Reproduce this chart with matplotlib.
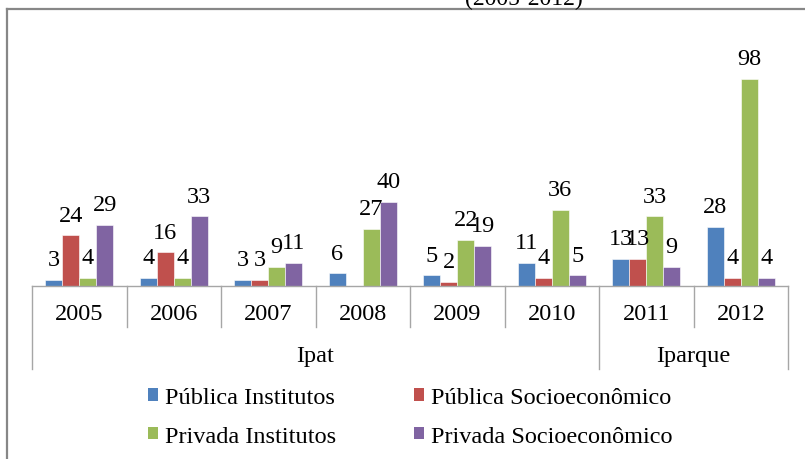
import matplotlib
matplotlib.use("Agg")
import matplotlib.pyplot as plt
from matplotlib.lines import Line2D
from matplotlib.patches import Patch
import numpy as np

plt.rcParams['font.family'] = ['Liberation Serif', 'DejaVu Serif']

years = ["2005", "2006", "2007", "2008", "2009", "2010", "2011", "2012"]
groups = ["Ipat", "Iparque"]
group_sizes = [6, 2]
series = ["Pública Institutos", "Pública Socioeconômico",
          "Privada Institutos", "Privada Socioeconômico"]
publica_institutos = [3, 4, 3, 6, 5, 11, 13, 28]
publica_socio = [24, 16, 3, 0, 2, 4, 13, 4]
privada_institutos = [4, 4, 9, 27, 22, 36, 33, 98]
privada_socio = [29, 33, 11, 40, 19, 5, 9, 4]
values = [publica_institutos, publica_socio, privada_institutos, privada_socio]
colors = ["#4F81BD", "#C0504D", "#9BBB59", "#8064A2"]
title = "(2005-2012)"

W, H = 805, 460
fig = plt.figure(figsize=(W / 100, H / 100), dpi=100)

# outer chart frame (partially outside the canvas on the right and bottom)
frame_col = "#878787"
fig.add_artist(Line2D([7 / W, 1.0], [1 - 10 / H, 1 - 10 / H],
                      transform=fig.transFigure, color=frame_col, lw=1.6))
fig.add_artist(Line2D([7 / W, 7 / W], [1 - 10 / H, 0.0],
                      transform=fig.transFigure, color=frame_col, lw=1.6))

# title, mostly cropped by the top edge
fig.text(524 / W, 1 - 5 / H, title, ha="center", va="baseline", fontsize=17)

ax_h = 105 * 2.112
ax = fig.add_axes([32 / W, (H - 287) / H, 756 / W, ax_h / H])
x = np.arange(len(years))
bw = 0.18
offsets = (np.arange(4) - 1.5) * bw
for vals, col, off, name in zip(values, colors, offsets, series):
    ax.bar(x + off, vals, width=bw, color=col, edgecolor="white",
           linewidth=0.4, label=name)
    for xi, v in zip(x + off, vals):
        if v > 0:
            ax.annotate(str(v), (xi, v), xytext=(0, 10.5),
                        textcoords="offset points", ha="center",
                        va="baseline", fontsize=17.5)

ax.set_xlim(-0.5, len(years) - 0.5)
ax.set_ylim(0, 105)
for s in ["top", "left", "right"]:
    ax.spines[s].set_visible(False)
ax.spines["bottom"].set_color("#A6A6A6")
ax.spines["bottom"].set_linewidth(1.0)
ax.set_xticks([])
ax.set_yticks([])

# two-level category axis
tr = ax.get_xaxis_transform()
line_col = "#A6A6A6"
y_year = -41 / ax_h
y_group = -83 / ax_h
bounds = [-0.5]
for n in group_sizes:
    bounds.append(bounds[-1] + n)
for k in range(len(years) + 1):
    xb = k - 0.5
    yb = y_group if xb in bounds else y_year
    ax.plot([xb, xb], [0, yb], transform=tr, color=line_col, lw=1.0,
            clip_on=False)
for xi, yr in zip(x, years):
    ax.text(xi, -27 / ax_h, yr, transform=tr, ha="center", va="center",
            fontsize=17.5)
for g, a, b in zip(groups, bounds[:-1], bounds[1:]):
    ax.text((a + b) / 2, -70 / ax_h, g, transform=tr, ha="center",
            va="center", fontsize=17.5)

# legend filled row by row
order = [0, 2, 1, 3]
handles = [Patch(facecolor=colors[i], edgecolor="none") for i in order]
labels = [series[i] for i in order]
fig.legend(handles, labels, loc="center", ncol=2,
           bbox_to_anchor=(0.51, 1 - 418 / H), frameon=False,
           fontsize=17.5, handlelength=0.4, handleheight=0.4,
           handletextpad=0.3, columnspacing=3.2, labelspacing=0.72)

fig.savefig("out.png", dpi=100)
